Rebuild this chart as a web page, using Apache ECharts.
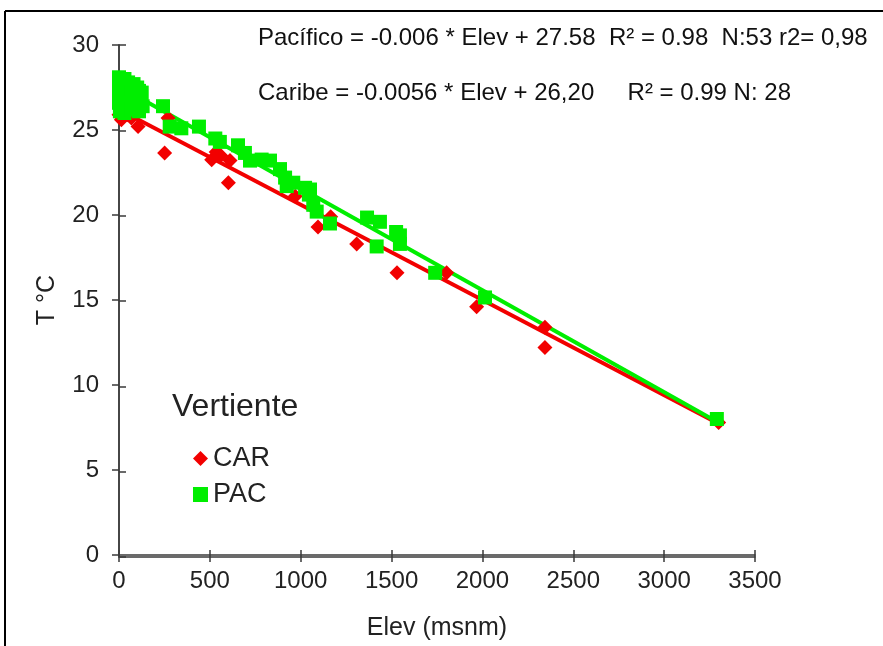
<!DOCTYPE html>
<html><head><meta charset="utf-8">
<script src="https://cdn.jsdelivr.net/npm/echarts@6/dist/echarts.min.js"></script>
<style>html,body{margin:0;padding:0;background:#fff}#c{width:883px;height:646px}</style>
</head><body><div id="c"></div>
<script>
// Data (Elev msnm, T °C)
const carElev = [13, 68, 105, 251, 270, 535, 510, 611, 602, 970, 1095, 1165, 1308, 1530, 1803, 1968, 2344, 2344, 0, 25, 45, 60, 85, 100, 120, 35, 560, 3300];
const carTemp = [25.6, 25.7, 25.2, 23.65, 25.7, 23.7, 23.25, 23.2, 21.9, 21.1, 19.3, 19.9, 18.3, 16.6, 16.6, 14.6, 13.4, 12.2, 25.9, 26.2, 25.9, 26.5, 26.0, 26.7, 26.3, 27.0, 23.5, 7.8];
const pacElev = [0, 10, 30, 50, 60, 80, 100, 110, 125, 0, 15, 40, 70, 0, 20, 50, 90, 120, 5, 30, 70, 110, 130,
  242, 279, 343, 440, 530, 555, 655, 693, 721, 785, 831, 886, 914, 923, 959, 1024, 1051, 1069, 1088, 1161, 1365, 1436, 1525, 1546, 1418, 1740, 2014, 3290, 1546, 1045];
const pacTemp = [28.1, 27.9, 28.0, 27.8, 27.6, 27.7, 27.5, 27.3, 27.2, 27.4, 27.0, 27.1, 27.2, 26.6, 26.4, 26.6, 26.8, 26.7, 26.1, 26.0, 26.2, 26.1, 26.4,
  26.4, 25.2, 25.1, 25.2, 24.5, 24.3, 24.1, 23.65, 23.2, 23.26, 23.2, 22.7, 22.2, 21.7, 21.9, 21.6, 21.5, 20.6, 20.2, 19.5, 19.85, 19.6, 19.0, 18.3, 18.15, 16.6, 15.15, 8.0, 18.8, 21.2];
// Regression parameters (from the equations shown)
const pacFit = {slope: -0.006, intercept: 27.58};
const carFit = {slope: -0.0056, intercept: 26.20};
const fitRange = [0, 3300];
const xTicks = [0, 500, 1000, 1500, 2000, 2500, 3000, 3500];
const yTicks = [0, 5, 10, 15, 20, 25, 30];
const eqPac = 'Pacífico = -0.006 * Elev + 27.58  R² = 0.98  N:53 r2= 0,98';
const eqCar = 'Caribe = -0.0056 * Elev + 26,20     R² = 0.99 N: 28';

const RED = '#f20000', GREEN = '#00ee00';
const zip = (a, b) => a.map((v, i) => [v, b[i]]);
const fitPts = f => fitRange.map(x => [x, f.intercept + f.slope * x]);
const FONT = 'Liberation Sans, Arial, sans-serif';
const AX = '#3a3a3a';
const GRID = {left: 119, right: 128, top: 45, bottom: 89};

const chart = echarts.init(document.getElementById('c'), null, {renderer: 'canvas'});
const lineStyle = {show: true, onZero: false, lineStyle: {color: AX, width: 1.5}};
chart.setOption({
  animation: false,
  backgroundColor: '#fff',
  grid: [Object.assign({}, GRID), Object.assign({}, GRID)],
  xAxis: [
    {type: 'value', gridIndex: 0, min: 0, max: 3500, interval: 500, splitLine: {show: false},
      axisLine: lineStyle, axisTick: {show: true, length: 7, lineStyle: {color: AX, width: 1.5}},
      name: 'Elev (msnm)', nameLocation: 'middle', nameGap: 61,
      nameTextStyle: {fontFamily: FONT, fontSize: 25, color: '#222'},
      axisLabel: {fontFamily: FONT, fontSize: 24, color: '#222', margin: 14,
        formatter: v => xTicks.includes(v) ? String(v) : ''}},
    {type: 'value', gridIndex: 1, min: 0, max: 3500, interval: 500, position: 'bottom', splitLine: {show: false},
      axisLine: lineStyle, axisLabel: {show: false},
      axisTick: {show: true, inside: true, length: 7, lineStyle: {color: AX, width: 1.5}}}
  ],
  yAxis: [
    {type: 'value', gridIndex: 0, min: 0, max: 30, interval: 5, splitLine: {show: false},
      axisLine: lineStyle, axisTick: {show: true, length: 7, lineStyle: {color: AX, width: 1.5}},
      name: 'T °C', nameLocation: 'middle', nameGap: 59, nameRotate: 90,
      nameTextStyle: {fontFamily: FONT, fontSize: 25, color: '#222'},
      axisLabel: {fontFamily: FONT, fontSize: 24, color: '#222', margin: 20,
        formatter: v => yTicks.includes(v) ? String(v) : ''}},
    {type: 'value', gridIndex: 1, min: 0, max: 30, interval: 5, position: 'left', splitLine: {show: false},
      axisLine: lineStyle, axisLabel: {show: false},
      axisTick: {show: true, inside: true, length: 7, lineStyle: {color: AX, width: 1.5}}}
  ],
  legend: {
    orient: 'vertical', left: 188, top: 440, itemGap: 9, itemWidth: 15, itemHeight: 15,
    textStyle: {fontFamily: FONT, fontSize: 27, color: '#222'},
    data: [{name: 'CAR', icon: 'diamond'}, {name: 'PAC', icon: 'rect'}]
  },
  graphic: [
    {type: 'line', shape: {x1: 5, y1: 11, x2: 883, y2: 11}, style: {stroke: '#000', lineWidth: 2}},
    {type: 'line', shape: {x1: 5, y1: 11, x2: 5, y2: 646}, style: {stroke: '#000', lineWidth: 2}},
    {type: 'text', left: 258, top: 26, style: {text: eqPac, fontFamily: FONT, fontSize: 24, fill: '#111'}},
    {type: 'text', left: 258, top: 81, style: {text: eqCar, fontFamily: FONT, fontSize: 24, fill: '#111'}},
    {type: 'text', left: 172, top: 391, style: {text: 'Vertiente', fontFamily: FONT, fontSize: 32, fill: '#222'}}
  ],
  series: [
    {name: 'CAR fit', type: 'line', data: fitPts(carFit), symbol: 'none', silent: true,
      lineStyle: {color: RED, width: 4}, z: 2},
    {name: 'PAC fit', type: 'line', data: fitPts(pacFit), symbol: 'none', silent: true,
      lineStyle: {color: GREEN, width: 4}, z: 2},
    {name: 'CAR', type: 'scatter', data: zip(carElev, carTemp), symbol: 'diamond', symbolSize: 15,
      itemStyle: {color: RED, opacity: 1}, z: 3},
    {name: 'PAC', type: 'scatter', data: zip(pacElev, pacTemp), symbol: 'rect', symbolSize: 14,
      itemStyle: {color: GREEN, opacity: 1}, z: 4},
    {name: 'ticks', type: 'scatter', xAxisIndex: 1, yAxisIndex: 1, data: [], silent: true}
  ]
});
</script></body></html>
